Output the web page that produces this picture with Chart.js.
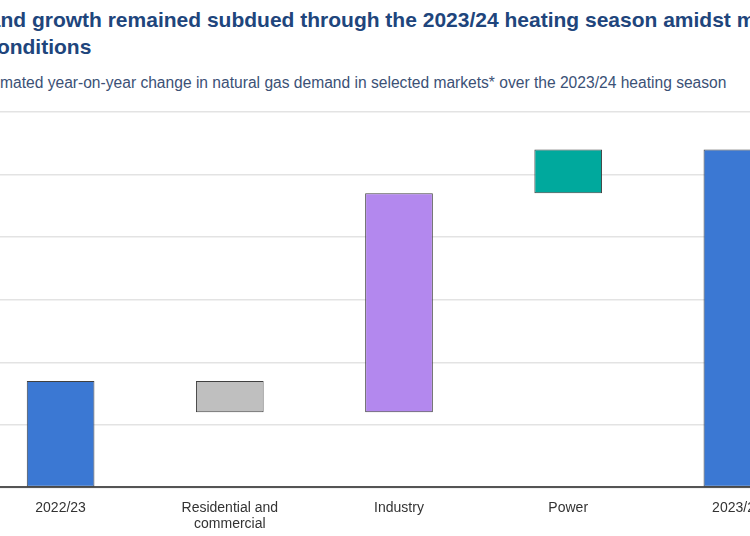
<!DOCTYPE html>
<html>
<head>
<meta charset="utf-8">
<script src="https://cdn.jsdelivr.net/npm/chart.js@4"></script>
<style>
  html, body { margin: 0; padding: 0; background: #fff; }
  body { width: 750px; height: 536px; overflow: hidden; position: relative; font-family: "Liberation Sans", Arial, sans-serif; }
  .title { position: absolute; top: 6px; left: 0; white-space: nowrap; font-size: 21px; font-weight: bold; line-height: 27px; color: #20457c; }
  .subtitle { position: absolute; top: 73px; left: 0; white-space: nowrap; font-size: 15.6px; line-height: 19px; color: #3b5176; }
  #wrap { position: absolute; top: 104px; left: -24px; width: 846px; height: 445px; }
</style>
</head>
<body>
  <div class="title" id="title"><span id="titleCut">Gas dema</span>nd growth remained subdued through the 2023/24 heating season amidst mild<br>weather conditions</div>
  <div class="subtitle" id="subtitle"><span id="subCut">Esti</span>mated year-on-year change in natural gas demand in selected markets* over the 2023/24 heating season</div>
  <div id="wrap"><canvas id="chart"></canvas></div>

<script>
  // Categories along the x axis
  const categories = ['2022/23', ['Residential and', 'commercial'], 'Industry', 'Power', '2023/24'];

  // Demand level before / after the season and the changes by sector (bcm)
  const startTotal = 8.5;
  const sectorChanges = [-2.5, 17.5, 3.5];
  const endTotal = 27.0;

  const barColors = ['#3b78d3', '#bfbfbf', '#b388ee', '#00a99d', '#3b78d3'];

  // Y axis range and gridline step
  const yMin = 0;
  const yMax = 30;
  const yStep = 5;

  // Build floating ranges for the waterfall
  function buildRanges() {
    const ranges = [[0, startTotal]];
    let level = startTotal;
    sectorChanges.forEach(change => {
      const next = level + change;
      ranges.push([Math.min(level, next), Math.max(level, next)]);
      level = next;
    });
    ranges.push([0, endTotal]);
    return ranges;
  }

  // Shift the cut-off text so it lines up like the reference crop
  function placeText() {
    const title = document.getElementById('title');
    title.style.left = -document.getElementById('titleCut').offsetWidth + 'px';
    const sub = document.getElementById('subtitle');
    sub.style.left = -document.getElementById('subCut').offsetWidth + 'px';
  }

  placeText();

  Chart.defaults.font.family = '"Liberation Sans", Arial, sans-serif';
  Chart.defaults.color = '#333';

  const ctx = document.getElementById('chart').getContext('2d');
  new Chart(ctx, {
    type: 'bar',
    data: {
      labels: categories,
      datasets: [{
        data: buildRanges(),
        backgroundColor: barColors,
        borderColor: '#404040',
        borderWidth: 1,
        borderSkipped: false,
        barPercentage: 0.8,
        categoryPercentage: 0.5
      }]
    },
    options: {
      responsive: true,
      maintainAspectRatio: false,
      animation: false,
      layout: { padding: { top: 8, bottom: 4, left: 0, right: 0 } },
      plugins: {
        legend: { display: false },
        tooltip: { enabled: false }
      },
      scales: {
        x: {
          grid: { display: false, drawTicks: false },
          border: { color: '#555', width: 2 },
          ticks: { font: { size: 14 }, padding: 12, maxRotation: 0, autoSkip: false }
        },
        y: {
          min: yMin,
          max: yMax,
          grid: { color: '#e3e3e3', lineWidth: 1.5, drawTicks: false },
          border: { display: false },
          ticks: { display: false, stepSize: yStep }
        }
      }
    }
  });
</script>
</body>
</html>
